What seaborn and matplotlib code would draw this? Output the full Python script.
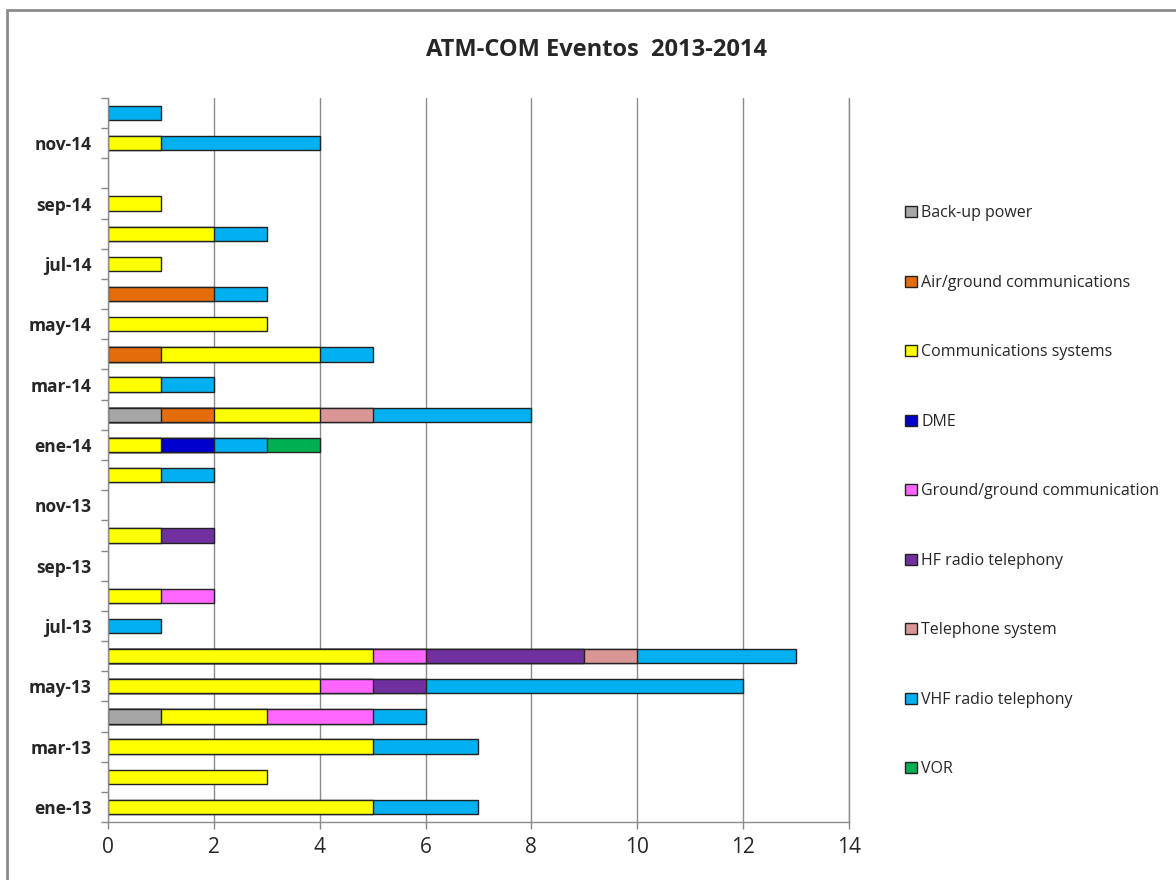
import numpy as np
import pandas as pd
import matplotlib
matplotlib.use("Agg")
import matplotlib.pyplot as plt
from matplotlib.patches import Patch, Rectangle
import seaborn as sns

months = ["ene-13", "feb-13", "mar-13", "abr-13", "may-13", "jun-13",
          "jul-13", "ago-13", "sep-13", "oct-13", "nov-13", "dic-13",
          "ene-14", "feb-14", "mar-14", "abr-14", "may-14", "jun-14",
          "jul-14", "ago-14", "sep-14", "oct-14", "nov-14", "dic-14"]

series_names = ["Back-up power", "Air/ground communications", "Communications systems",
                "DME", "Ground/ground communication", "HF radio telephony",
                "Telephone system", "VHF radio telephony", "VOR"]

backup_power = [0, 0, 0, 1, 0, 0, 0, 0, 0, 0, 0, 0, 0, 1, 0, 0, 0, 0, 0, 0, 0, 0, 0, 0]
air_ground   = [0, 0, 0, 0, 0, 0, 0, 0, 0, 0, 0, 0, 0, 1, 0, 1, 0, 2, 0, 0, 0, 0, 0, 0]
comm_systems = [5, 3, 5, 2, 4, 5, 0, 1, 0, 1, 0, 1, 1, 2, 1, 3, 3, 0, 1, 2, 1, 0, 1, 0]
dme          = [0, 0, 0, 0, 0, 0, 0, 0, 0, 0, 0, 0, 1, 0, 0, 0, 0, 0, 0, 0, 0, 0, 0, 0]
ground_comm  = [0, 0, 0, 2, 1, 1, 0, 1, 0, 0, 0, 0, 0, 0, 0, 0, 0, 0, 0, 0, 0, 0, 0, 0]
hf_radio     = [0, 0, 0, 0, 1, 3, 0, 0, 0, 1, 0, 0, 0, 0, 0, 0, 0, 0, 0, 0, 0, 0, 0, 0]
telephone    = [0, 0, 0, 0, 0, 1, 0, 0, 0, 0, 0, 0, 0, 1, 0, 0, 0, 0, 0, 0, 0, 0, 0, 0]
vhf_radio    = [2, 0, 2, 1, 6, 3, 1, 0, 0, 0, 0, 1, 1, 3, 1, 1, 0, 1, 0, 1, 0, 0, 3, 1]
vor          = [0, 0, 0, 0, 0, 0, 0, 0, 0, 0, 0, 0, 1, 0, 0, 0, 0, 0, 0, 0, 0, 0, 0, 0]

series_values = [backup_power, air_ground, comm_systems, dme, ground_comm,
                 hf_radio, telephone, vhf_radio, vor]
colors = ["#A6A6A6", "#E46C0A", "#FFFF00", "#0000CC", "#FF66FF",
          "#7030A0", "#D99694", "#00B0F0", "#00B050"]

x_ticks = [0, 2, 4, 6, 8, 10, 12, 14]
title = "ATM-COM Eventos  2013-2014"

sns.set_theme(style="white")
plt.rcParams["font.family"] = ["Open Sans", "DejaVu Sans"]

fig = plt.figure(figsize=(11.76, 8.8), dpi=100)
ax = fig.add_axes([108 / 1176, 1 - 822 / 880, (849 - 108) / 1176, (822 - 98) / 880])

vals = np.array(series_values, dtype=float)
cum = np.cumsum(vals, axis=0)
order = months[::-1]  # top to bottom

# draw from the outermost layer inward so inner segments overlay
for k in range(len(series_names) - 1, -1, -1):
    widths = np.where(vals[k] > 0, cum[k], np.nan)
    df = pd.DataFrame({"month": months, "value": widths})
    df = df.dropna()
    if df.empty:
        continue
    sns.barplot(data=df, x="value", y="month", order=order, orient="h",
                color=colors[k], saturation=1, width=0.47,
                edgecolor="#222222", linewidth=1.0, ax=ax, errorbar=None)

ax.set_xlim(0, 14)
ax.set_ylim(len(months) - 0.5, -0.5)
ax.set_xticks(x_ticks)
ax.set_xticklabels([str(t) for t in x_ticks], fontsize=15)
ax.set_xlabel("")
ax.set_ylabel("")

labels = [m if (len(months) - 1 - i) % 2 == 0 else "" for i, m in enumerate(order)]
ax.set_yticks(range(len(order)))
ax.set_yticklabels(labels, fontsize=12.5, fontweight="bold")
ax.set_yticks(np.arange(-0.5, len(order), 1), minor=True)
ax.tick_params(axis="y", which="major", length=0, pad=12)
ax.tick_params(axis="y", which="minor", length=5, color="#888888", width=1, left=True)
ax.tick_params(axis="x", which="major", length=5, color="#888888", width=1, bottom=True, pad=6)

ax.xaxis.grid(True, color="#8C8C8C", linewidth=1)
ax.yaxis.grid(False)
ax.set_axisbelow(True)
ax.spines["top"].set_visible(False)
for s in ["left", "bottom", "right"]:
    ax.spines[s].set_color("#8C8C8C")
    ax.spines[s].set_linewidth(1)

fig.text(596 / 1176, 1 - 50 / 880, title, ha="center", va="center",
         fontsize=17, fontweight="bold")

handles = [Patch(facecolor=c, edgecolor="#222222", linewidth=1) for c in colors]
fig.legend(handles, series_names, loc="upper left",
           bbox_to_anchor=(899 / 1176, 1 - 199 / 880), frameon=False,
           fontsize=11.5, handlelength=0.7, handleheight=0.7,
           handletextpad=0.3, labelspacing=3.35, borderaxespad=0)

fig.patches.append(Rectangle((7 / 1176, -0.05), 1.1, 1 - 10 / 880 + 0.05,
                             transform=fig.transFigure, fill=False,
                             edgecolor="#8C8C8C", linewidth=2))

fig.savefig("out.png", dpi=100)
